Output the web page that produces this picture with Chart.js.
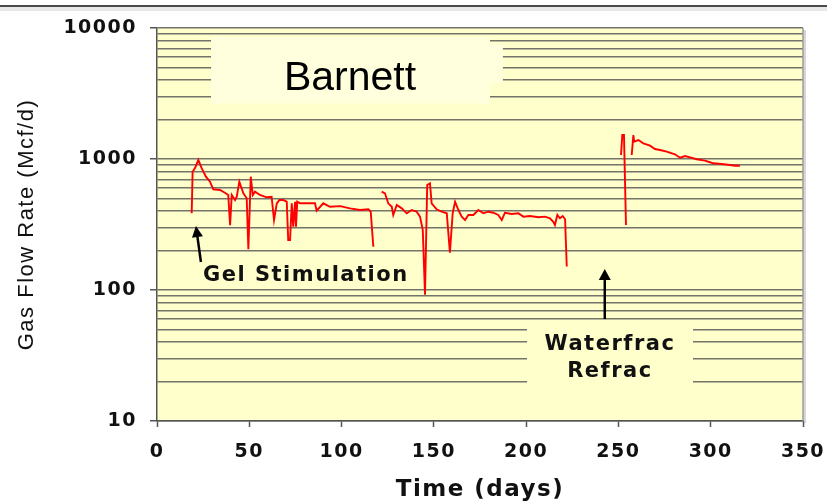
<!DOCTYPE html>
<html>
<head>
<meta charset="utf-8">
<title>Barnett gas flow rate</title>
<script src="https://cdn.jsdelivr.net/npm/chart.js@4.4.0/dist/chart.umd.min.js"></script>
<style>
  html, body { margin: 0; padding: 0; background: #fff; }
  #wrap { width: 827px; height: 504px; }
</style>
</head>
<body>
<div id="wrap"><canvas id="flowChart" width="827" height="504"></canvas></div>
<script>
(function () {
  'use strict';

  // ===== Data =====

  // Production after the gel stimulation, first run
  const GEL_DAYS_1 = [18.8, 19.3, 20.6, 22.4, 24.2, 26.5, 28.7, 30.5, 34.1, 36.8,
    38.6, 39.6, 40.5, 42.3, 43.2, 44.6, 46.8, 48.6, 49.5, 50.8,
    51.9, 53.1, 55.8, 59.4, 62.1, 63.4, 64.9, 66.3, 68.4, 70.3,
    71.1, 72.1, 73.0, 73.8, 74.8, 75.3, 76.0, 77.5, 82.9, 85.6,
    86.5, 90.1, 93.7, 99.2, 104.6, 110.0, 114.5, 115.8, 117.2];
  const GEL_RATES_1 = [385, 800, 854, 982, 851, 733, 671, 587, 580, 553,
    531, 313, 531, 486, 515, 671, 547, 501, 205, 733,
    531, 563, 531, 510, 515, 342, 459, 486, 486, 472,
    241, 241, 459, 304, 472, 304, 472, 459, 459, 459,
    403, 459, 432, 437, 420, 408, 413, 396, 214];

  // Second run before the refrac
  const GEL_DAYS_2 = [121.7, 123.5, 125.3, 127.2, 128.0, 129.9, 132.6, 135.3, 138.0, 140.7,
    142.5, 144.0, 145.2, 146.4, 147.9, 148.8, 151.5, 154.2, 157.0, 158.7,
    160.2, 161.5, 163.3, 165.1, 166.9, 168.7, 171.4, 174.1, 176.8, 179.5,
    182.2, 184.9, 186.8, 188.5, 192.2, 195.8, 198.5, 202.1, 206.6, 210.2,
    212.9, 214.7, 215.6, 216.9, 218.3, 219.8, 221.1, 222.0];
  const GEL_RATES_2 = [563, 547, 459, 432, 374, 446, 420, 385, 408, 396,
    363, 287, 92, 633, 652, 459, 413, 396, 385, 193,
    385, 472, 408, 363, 342, 374, 374, 408, 385, 396,
    389, 374, 342, 389, 380, 385, 363, 367, 359, 363,
    353, 332, 313, 374, 353, 367, 347, 151];

  // After the waterfrac refrac
  const REFRAC_DAYS_1 = [251.4, 252.1, 253.0, 254.1];
  const REFRAC_RATES_1 = [1073, 1525, 1525, 313];
  const REFRAC_DAYS_2 = [257.2, 258.1, 258.5, 260.8, 263.5, 267.1, 269.8, 272.5, 276.2, 280.6,
    283.4, 286.1, 288.8, 292.4, 296.9, 299.6, 301.4, 305.9, 310.5, 313.2, 315.8];
  const REFRAC_RATES_2 = [1073, 1525, 1356, 1396, 1318, 1263, 1192, 1171, 1137, 1086,
    1023, 1054, 1030, 995, 971, 944, 927, 916, 900, 889, 889];

  const X_MIN = 0;
  const X_MAX = 350;
  const X_STEP = 50;
  const Y_LABELS = [10, 100, 1000, 10000];
  const Y_GRID = [10, 20, 30, 40, 50, 60, 70, 80, 90,
    100, 200, 300, 400, 500, 600, 700, 800, 900,
    1000, 2000, 3000, 4000, 5000, 6000, 7000, 8000, 9000, 10000];

  const COLORS = {
    plot: '#FFFFCC',
    box: '#FFFFDD',
    grid: '#73736a',
    axis: '#555555',
    line: '#FF0000',
    text: '#111111',
  };
  const SPACING = '1.5px';
  const BOLD = "'DejaVu Sans', sans-serif";

  function toPoints(days, rates) {
    return days.map((d, i) => ({ x: d, y: rates[i] }));
  }

  function series(days, rates) {
    return {
      data: toPoints(days, rates),
      borderColor: COLORS.line,
      borderWidth: 1.9,
      pointRadius: 0,
      tension: 0,
      fill: false,
    };
  }

  // ===== Decorations: background, label boxes, arrows =====

  function arrow(ctx, x0, y0, x1, y1, head, half) {
    const ang = Math.atan2(y1 - y0, x1 - x0);
    const bx = x1 - head * Math.cos(ang);
    const by = y1 - head * Math.sin(ang);
    ctx.beginPath();
    ctx.moveTo(x0, y0);
    ctx.lineTo(bx, by);
    ctx.stroke();
    ctx.beginPath();
    ctx.moveTo(x1, y1);
    ctx.lineTo(bx + half * Math.sin(ang), by - half * Math.cos(ang));
    ctx.lineTo(bx - half * Math.sin(ang), by + half * Math.cos(ang));
    ctx.closePath();
    ctx.fill();
  }

  const decor = {
    id: 'decor',
    beforeLayout(chart) {
      chart.ctx.letterSpacing = SPACING;
    },
    beforeDraw(chart) {
      const { ctx, chartArea: a, width } = chart;
      ctx.letterSpacing = SPACING;
      ctx.save();
      // frame line along the top of the slide
      ctx.fillStyle = '#e8e8e8';
      ctx.fillRect(0, 7, width, 4);
      ctx.fillStyle = '#4a4a4a';
      ctx.fillRect(0, 5, width, 2);
      // plot shadow + background
      ctx.fillStyle = '#d6d6d6';
      ctx.fillRect(a.right, a.top + 2, 3, a.bottom - a.top);
      ctx.fillStyle = COLORS.plot;
      ctx.fillRect(a.left, a.top, a.right - a.left, a.bottom - a.top);
      ctx.restore();
    },
    beforeDatasetsDraw(chart) {
      const { ctx, chartArea: a } = chart;
      const x = chart.scales.x;
      const y = chart.scales.y;
      const px = (v) => x.getPixelForValue(v);
      const py = (v) => y.getPixelForValue(v);

      ctx.save();
      ctx.strokeStyle = '#9c9c9c';
      ctx.lineWidth = 1.5;
      ctx.beginPath();
      ctx.moveTo(a.right, a.top);
      ctx.lineTo(a.right, a.bottom);
      ctx.stroke();

      // boxes under the labels hide the grid
      ctx.fillStyle = COLORS.box;
      ctx.fillRect(px(29.3), py(8500), px(180.4) - px(29.3), py(2650) - py(8500));
      ctx.fillRect(px(180.4), py(7500), px(187.4) - px(180.4), py(3800) - py(7500));
      ctx.fillStyle = COLORS.plot;
      ctx.fillRect(px(200.5), py(57), px(290.4) - px(200.5), py(15) - py(57));

      // title inside the plot
      ctx.fillStyle = '#000';
      ctx.letterSpacing = '0px';
      ctx.font = "41px 'Liberation Sans', Arial, sans-serif";
      ctx.textAlign = 'center';
      ctx.textBaseline = 'alphabetic';
      ctx.fillText('Barnett', px(104.6), py(3390));

      ctx.letterSpacing = SPACING;
      ctx.fillStyle = COLORS.text;
      ctx.font = 'bold 21px ' + BOLD;
      ctx.textAlign = 'left';
      ctx.fillText('Gel Stimulation', px(24.9), py(117.8));
      ctx.textAlign = 'center';
      ctx.fillText('Waterfrac', px(245.4), py(34.8));
      ctx.fillText('Refrac', px(245.4), py(21.8));

      ctx.strokeStyle = '#000';
      ctx.fillStyle = '#000';
      ctx.lineWidth = 2.5;
      arrow(ctx, px(23.8), py(163.6), px(21.1), py(308), 11, 5.5);
      arrow(ctx, px(242.6), py(60), px(242.6), py(144.5), 11, 6);
      ctx.restore();
    },
  };

  // ===== Chart =====

  const canvas = document.getElementById('flowChart');
  new Chart(canvas, {
    type: 'line',
    data: {
      datasets: [
        series(GEL_DAYS_1, GEL_RATES_1),
        series(GEL_DAYS_2, GEL_RATES_2),
        series(REFRAC_DAYS_1, REFRAC_RATES_1),
        series(REFRAC_DAYS_2, REFRAC_RATES_2),
      ],
    },
    options: {
      responsive: false,
      animation: false,
      devicePixelRatio: 1,
      layout: { padding: { top: 28, right: 24, left: 0, bottom: 0 } },
      plugins: { legend: { display: false }, tooltip: { enabled: false } },
      scales: {
        x: {
          type: 'linear',
          min: X_MIN,
          max: X_MAX,
          afterFit: (s) => {
            s.height = 83;
            s.paddingLeft = 0;
            s.paddingRight = 0;
          },
          ticks: {
            stepSize: X_STEP,
            maxRotation: 0,
            padding: 14,
            color: COLORS.text,
            font: { family: BOLD, size: 19, weight: 'bold' },
          },
          grid: {
            drawOnChartArea: false,
            drawTicks: true,
            tickLength: 6,
            tickColor: COLORS.axis,
            tickWidth: 1.5,
          },
          border: { color: COLORS.axis, width: 1.5 },
          title: {
            display: true,
            text: 'Time (days)',
            color: COLORS.text,
            font: { family: BOLD, size: 23, weight: 'bold' },
            padding: { top: 0, bottom: 0 },
          },
        },
        y: {
          type: 'logarithmic',
          min: Y_LABELS[0],
          max: Y_LABELS[Y_LABELS.length - 1],
          afterFit: (s) => {
            s.width = 157;
            s.paddingTop = 0;
            s.paddingBottom = 0;
          },
          afterBuildTicks: (s) => { s.ticks = Y_GRID.map((v) => ({ value: v })); },
          ticks: {
            autoSkip: false,
            padding: 13,
            color: COLORS.text,
            font: { family: BOLD, size: 19, weight: 'bold' },
            callback: (v) => (Y_LABELS.includes(v) ? String(v) : ''),
          },
          grid: {
            color: COLORS.grid,
            lineWidth: 1.5,
            drawTicks: true,
            tickLength: 7,
            tickWidth: 1.5,
            tickColor: (c) => (c.tick && Y_LABELS.includes(c.tick.value) ? COLORS.axis : 'rgba(0,0,0,0)'),
          },
          border: { color: COLORS.axis, width: 1.5 },
          title: {
            display: true,
            text: 'Gas Flow Rate (Mcf/d)',
            color: COLORS.text,
            font: { family: "'Liberation Sans', Arial, sans-serif", size: 22, weight: 'normal' },
            padding: { top: 14, bottom: 0 },
          },
        },
      },
    },
    plugins: [decor],
  });
})();
</script>
</body>
</html>
